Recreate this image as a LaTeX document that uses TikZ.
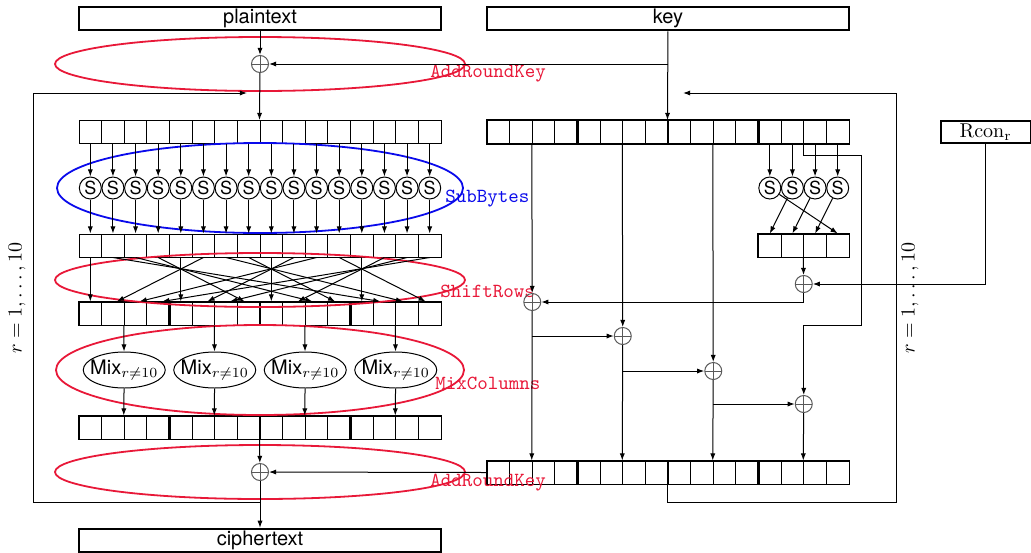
\documentclass[tikz,border=0pt]{standalone}
\usepackage{fontspec}
\setsansfont{TeX Gyre Heros}
\usetikzlibrary{arrows.meta, shapes.geometric}
\definecolor{roundred}{RGB}{232,24,56}
\definecolor{subblue}{RGB}{10,10,235}

\begin{document}
\begin{tikzpicture}[
    x=0.5pt, y=-0.5pt,
    every node/.style={font=\sffamily},
    cell/.style={draw, line width=0.5pt, minimum width=11.3125pt, minimum height=11.5pt, inner sep=0pt},
    grp/.style={line width=0.9pt},
    bar/.style={draw, line width=1.2pt, minimum width=181pt, minimum height=11.5pt, inner sep=0pt},
    sbox/.style={circle, draw, line width=0.5pt, minimum size=11pt, inner sep=0pt, font=\sffamily\small},
    xor/.style={circle, draw=black!65, line width=0.5pt, minimum size=8.5pt, inner sep=0pt,
      path picture={\draw[black!65] (path picture bounding box.north) -- (path picture bounding box.south)
        (path picture bounding box.west) -- (path picture bounding box.east);}},
    mix/.style={ellipse, draw, line width=0.5pt, minimum width=41pt, minimum height=18pt,
      inner xsep=-4pt, inner ysep=0pt},
    arr/.style={line width=0.5pt, -{Latex[length=3.6pt, width=2.6pt]}},
    wire/.style={line width=0.5pt},
    oval/.style={line width=0.9pt},
    stage/.style={font=\ttfamily, anchor=west, inner sep=0pt}
  ]
    \useasboundingbox (0,0) rectangle (1031,552);

    % in / out boxes
    \node[bar] (plain) at (260,18.75) {plaintext};
    \node[bar] (key) at (668,18.75) {key};
    \node[bar] (ciph) at (260,540.5) {ciphertext};
    \node[draw, line width=1pt, minimum width=45pt, minimum height=11pt, inner sep=0pt] (rcon) at (985.5,132) {$\mathrm{Rcon}_\mathrm{r}$};

    % byte rows
    \foreach \row/\x/\y in {s0/79/132, s1/79/245.5, s2/79/313.5, s3/79/427.5, k0/487/132, k1/487/472.5}
      \foreach \i in {0,...,15}
        \node[cell] (\row-\i) at ({\x+22.625*(\i+0.5)},\y) {};
    \foreach \row in {s2, s3, k0, k1}
      \foreach \g/\h in {0/3, 4/7, 8/11, 12/15}
        \draw[grp] (\row-\g.north west) rectangle (\row-\h.south east);

    % AddRoundKey (first)
    \draw[oval, roundred] (260,64) ellipse [x radius=102.5pt, y radius=13.5pt];
    \node[stage, text=roundred] (ark0) at (430,74) {AddRoundKey};
    \node[xor] (xt) at (260,64) {};
    \draw[arr] (plain) -- (xt);
    \draw[arr] (key) -- (k0-8.north west);
    \draw[wire, arr] (key |- xt) -- (xt);
    \draw[arr] (xt) -- (s0-8.north west);

    % round loops
    \coordinate (jt) at (260,93);
    \coordinate (jb) at (260,502);
    \coordinate (jk) at (668,93);
    \draw[arr, shorten >=6.5pt] (jb) -- (33,502) |- (jt);
    \draw[arr, shorten >=7.5pt] (k1-8.south west) |- (896,502) |- (jk);
    \node[rotate=90] (rleft) at (17,298) {$r=1,\ldots,10$};
    \node[rotate=90] (rright) at (910,298) {$r=1,\ldots,10$};

    % SubBytes
    \draw[oval, subblue] (260,188) ellipse [x radius=101.5pt, y radius=22.5pt];
    \node[stage, text=subblue] (sbl) at (445,199) {SubBytes};
    \foreach \i in {0,...,15} {
      \node[sbox] (sb-\i) at ({90.3125+22.625*\i},188) {S};
      \draw[arr] (s0-\i) -- (sb-\i);
      \draw[arr] (sb-\i) -- (s1-\i);
    }

    % ShiftRows
    \draw[oval, roundred] (260,280) ellipse [x radius=102.5pt, y radius=13.5pt];
    \node[stage, text=roundred] (srl) at (440,291) {ShiftRows};
    \foreach \i/\j/\o in {0/0/0, 1/13/-2, 2/10/-2, 3/7/-2, 4/4/0, 5/1/2, 6/14/-2, 7/11/-2,
                          8/8/0, 9/5/2, 10/2/2, 11/15/-2, 12/12/0, 13/9/2, 14/6/2, 15/3/2}
      \draw[arr] (s1-\i.south) -- ([xshift=\o pt]s2-\j.north);

    % MixColumns
    \draw[oval, roundred] (260,370) ellipse [x radius=102pt, y radius=22.5pt];
    \node[stage, text=roundred] (mcl) at (435,383) {MixColumns};
    \foreach \j/\c in {0/2, 1/6, 2/10, 3/14} {
      \node[mix] (mx-\j) at ({79+22.625*\c},370) {Mix$_{r\neq10}$};
      \draw[arr] (s2-\c.south west) -- (mx-\j);
      \draw[arr] (mx-\j) -- (s3-\c.north west);
    }

    % AddRoundKey (round)
    \draw[oval, roundred] (260,472) ellipse [x radius=102.5pt, y radius=13.5pt];
    \node[stage, text=roundred] (ark1) at (430,483) {AddRoundKey};
    \node[xor] (xb) at (260,472) {};
    \draw[arr] (s3-8.south west) -- (xb);
    \draw[arr] (k1-0.west) -- (xb);
    \draw[arr] (xb) -- (ciph);

    % key schedule
    \foreach \i/\k in {0/12, 1/13, 2/14, 3/15} {
      \node[sbox] (ks-\i) at ({758.5+22.625*(\i+0.5)},188) {S};
      \node[cell] (w-\i) at ({758.5+22.625*(\i+0.5)},245.5) {};
      \draw[arr] (k0-\k) -- (ks-\i);
    }
    \draw[grp] (w-0.north west) rectangle (w-3.south east);
    \foreach \a/\b in {0/3, 1/0, 2/1, 3/2}
      \draw[arr] (ks-\a) -- (w-\b.north);

    \node[xor] (xr) at (803.75,284) {};
    \node[xor] (xk1) at (532.25,302) {};
    \node[xor] (xk2) at (622.75,336) {};
    \node[xor] (xk3) at (713.25,371) {};
    \node[xor] (xk4) at (803.75,404) {};

    \draw[arr] (w-2.south west) -- (xr);
    \draw[arr] (rcon) |- (xr);
    \draw[arr] (xr) |- (xk1);
    \draw[arr] (k0-2.south west) -- (xk1);
    \draw[arr] (k0-6.south west) -- (xk2);
    \draw[arr] (k0-10.south west) -- (xk3);
    \draw[arr] (k0-14.south west) -- ++(0,11) -| (861,325) -| (xk4);

    \draw[arr] (xk1) -- (k1-2.north west);
    \draw[arr] (xk1 |- xk2) -- (xk2);
    \draw[arr] (xk2) -- (k1-6.north west);
    \draw[arr] (xk2 |- xk3) -- (xk3);
    \draw[arr] (xk3) -- (k1-10.north west);
    \draw[arr] (xk3 |- xk4) -- (xk4);
    \draw[arr] (xk4) -- (k1-14.north west);
\end{tikzpicture}
\end{document}
